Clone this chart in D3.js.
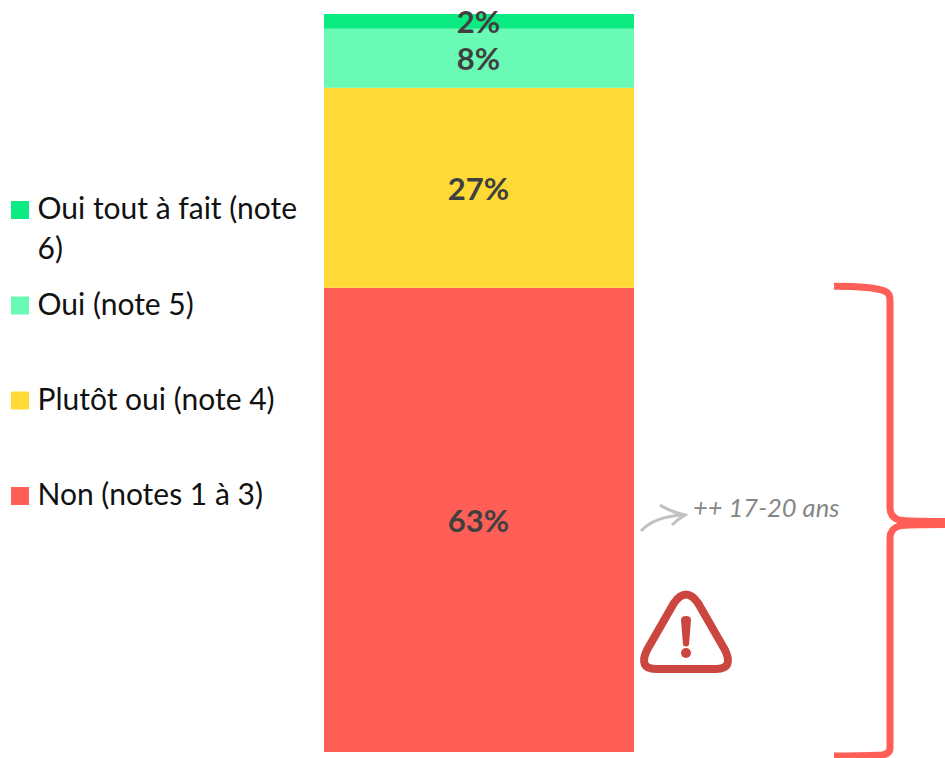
<!DOCTYPE html>
<html>
<head>
<meta charset="utf-8">
<script src="https://cdn.jsdelivr.net/npm/d3@7"></script>
<style>
  html, body { margin: 0; padding: 0; background: #fff; }
  svg { display: block; }
  text { font-family: Lato, sans-serif; }
</style>
</head>
<body>
<div id="graph"></div>
<script>
// from the bottom of the bar to the top
const categories = ['Non (notes 1 à 3)', 'Plutôt oui (note 4)', 'Oui (note 5)', 'Oui tout à fait (note 6)']
const values = [62.9, 27.1, 8, 2]
const colors = ['#ff5f57', '#ffda36', '#69fbb6', '#0beb81']
const legendLines = [['Non (notes 1 à 3)'], ['Plutôt oui (note 4)'], ['Oui (note 5)'], ['Oui tout à fait (note', '6)']]
const legendRows = [496, 400.5, 305.5, 210]

const width = 945, height = 758
const barLeft = 324, barRight = 634, barTop = 14, barBottom = 752

const row = {}
categories.forEach((c, i) => row[c] = values[i])
const stacked = d3.stack().keys(categories)([row])

const xScale = d3.scaleBand().domain(['total']).range([barLeft, barRight])
const yScale = d3.scaleLinear().domain([0, 100]).range([barBottom, barTop])

const svg = d3.select('#graph').append('svg')
  .attr('width', width)
  .attr('height', height)

svg.selectAll('rect.cell').data(stacked).enter().append('rect')
  .attr('class', 'cell')
  .attr('x', xScale('total'))
  .attr('y', d => yScale(d[0][1]))
  .attr('width', xScale.bandwidth())
  .attr('height', d => yScale(d[0][0]) - yScale(d[0][1]))
  .attr('fill', (d, i) => colors[i])

svg.selectAll('text.pct').data(stacked).enter().append('text')
  .attr('class', 'pct')
  .attr('x', xScale('total') + xScale.bandwidth() / 2 - 0.5)
  .attr('y', d => (yScale(d[0][0]) + yScale(d[0][1])) / 2 + 12)
  .attr('text-anchor', 'middle')
  .attr('font-size', 31)
  .attr('font-weight', 700)
  .attr('fill', '#404040')
  .text((d, i) => Math.round(values[i]) + '%')

// legend
const legend = svg.selectAll('g.legend').data(categories).enter().append('g')
  .attr('class', 'legend')
  .attr('transform', (d, i) => `translate(0, ${legendRows[i]})`)

legend.append('rect')
  .attr('x', 11)
  .attr('y', -9)
  .attr('width', 18)
  .attr('height', 18)
  .attr('fill', (d, i) => colors[i])

legend.append('text')
  .attr('font-size', 30)
  .attr('fill', '#111')
  .selectAll('tspan')
  .data((d, i) => legendLines[i])
  .enter().append('tspan')
  .attr('x', 37.5)
  .attr('y', (d, i) => 9 + i * 40)
  .text(d => d)

// bracket around the "Non" segment
const bt = yScale(values[0]) - 1.5, bb = yScale(0) + 4, bm = 523
svg.append('path')
  .attr('d', `M834 ${bt} C860 ${bt} 878 ${bt + 2} 885 ${bt + 5} Q890 ${bt + 7} 890 ${bt + 14}
    L890 ${bm - 15} Q890 ${bm - 6} 899 ${bm - 3} Q908 ${bm - 1.5} 945 ${bm - 1.5}`)
  .attr('fill', 'none')
  .attr('stroke', '#ff5f57')
  .attr('stroke-width', 7)
svg.append('path')
  .attr('d', `M945 ${bm + 1.5} Q908 ${bm + 1.5} 899 ${bm + 3} Q890 ${bm + 6} 890 ${bm + 15}
    L890 ${bb - 8} Q890 ${bb - 2} 882 ${bb - 1} Q860 ${bb} 834 ${bb}`)
  .attr('fill', 'none')
  .attr('stroke', '#ff5f57')
  .attr('stroke-width', 7)

// grey note with its arrow
svg.append('path')
  .attr('d', 'M641 531 C650 521 664 516 684 515')
  .attr('fill', 'none')
  .attr('stroke', '#c0c2c2')
  .attr('stroke-width', 3)
svg.append('path')
  .attr('d', 'M660 505 C668 510 676 513 685 515 C680 518 676 521 672 525')
  .attr('fill', 'none')
  .attr('stroke', '#c0c2c2')
  .attr('stroke-width', 3)

svg.append('text')
  .attr('x', 693)
  .attr('y', 517)
  .attr('font-size', 25.5)
  .attr('font-style', 'italic')
  .attr('fill', '#858787')
  .text('++ 17-20 ans')

// warning sign
const warn = svg.append('g')
warn.append('path')
  .attr('d', 'M674 603 Q686 586 698 603 L725 650 Q734 669 716 669 L656 669 Q638 669 647 650 Z')
  .attr('fill', 'none')
  .attr('stroke', '#cc4640')
  .attr('stroke-width', 8)
  .attr('stroke-linejoin', 'round')
warn.append('path')
  .attr('d', 'M681 620 Q681 616 686 616 Q691 616 691 620 L689 645 Q686 648 683 645 Z')
  .attr('fill', '#cc4640')
warn.append('circle')
  .attr('cx', 686).attr('cy', 653).attr('r', 5)
  .attr('fill', '#cc4640')
</script>
</body>
</html>
